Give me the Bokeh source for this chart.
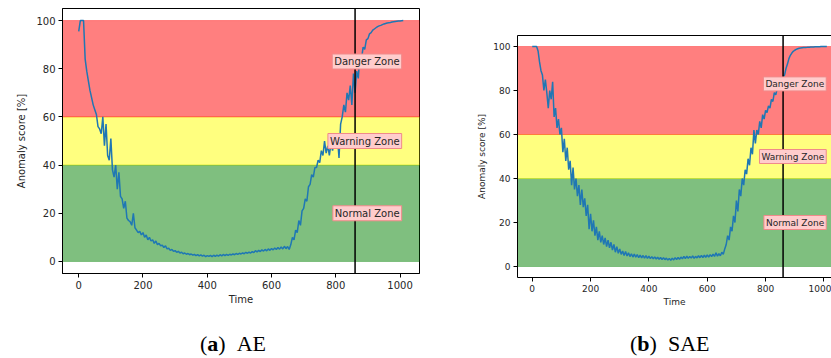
from bokeh.plotting import figure
from bokeh.layouts import row, column
from bokeh.models import BoxAnnotation, Span, Label, LinearAxis, FixedTicker, Range1d, Div, Spacer
from bokeh.embed import file_html
from bokeh.resources import INLINE

# ---------------- data ----------------
time = list(range(0, 1015, 5))

ae_score = [
    95.5, 100, 100, 100, 84, 79, 75, 71, 68, 65,
    63, 61, 56, 55, 53, 60, 48, 57, 44, 42,
    51, 38, 35, 40, 30, 37, 27, 26, 22, 25,
    18, 17, 16.5, 15, 20, 14, 13, 12, 12.5, 11,
    12, 10, 11, 9, 10, 8.5, 9, 7.5, 8.5, 7,
    7.5, 6.5, 6.8, 5.8, 6.5, 5.2, 5.5, 4.6, 5, 4.2,
    4.5, 3.8, 4.2, 3.5, 3.8, 3.2, 3.5, 3.0, 3.3, 2.8,
    3.1, 2.6, 2.9, 2.4, 2.8, 2.3, 2.7, 2.2, 2.6, 2.0,
    2.4, 2.1, 2.5, 2.0, 2.6, 2.1, 2.6, 2.2, 2.8, 2.3,
    2.9, 2.4, 2.9, 2.5, 3.0, 2.7, 3.1, 2.8, 3.3, 2.9,
    3.4, 3.1, 3.6, 3.2, 3.8, 3.4, 3.9, 3.5, 4.1, 3.7,
    4.5, 3.9, 4.6, 4.1, 4.8, 4.3, 5.0, 4.4, 5.2, 4.6,
    5.4, 4.8, 5.6, 5.0, 5.8, 5.1, 6.0, 5.2, 6.3, 5.3,
    6.2, 5.0, 7, 10, 9, 13, 12, 17, 15, 21,
    22, 26, 25, 31, 32, 36, 35, 39, 39, 42,
    41, 46, 44, 50, 45, 48, 44, 49, 46, 50,
    48, 52, 43, 57, 60, 65, 62, 70, 67, 73,
    65, 78, 70, 79, 76, 86, 84, 89, 88, 92,
    92.5, 94.5, 95, 96, 96.5, 97, 97.5, 97.8, 98, 98.3,
    98.6, 98.8, 99, 99.1, 99.2, 99.4, 99.5, 99.6, 99.7, 99.8,
    99.8, 99.9, 100,
]

sae_score = [
    100, 100, 100, 100, 98, 93, 89, 87, 80, 85,
    79, 72, 80, 76, 84, 68, 72, 63, 67, 60,
    63, 52, 58, 48, 54, 44, 48, 37, 45, 35,
    40, 32, 37, 28, 35, 27, 31, 23, 28, 17,
    24, 16, 21, 14, 18, 12, 16, 11, 14, 10,
    13, 9, 12, 8.5, 11, 7.5, 10, 6.5, 9, 6,
    8, 5.5, 7, 5, 6.8, 4.8, 6.2, 4.5, 5.8, 4.3,
    5.6, 4.2, 5.4, 4.0, 5.2, 3.9, 5.0, 3.8, 4.9, 3.7,
    4.7, 3.6, 4.5, 3.5, 4.4, 3.4, 4.2, 3.3, 4.1, 3.2,
    4.0, 3.1, 3.8, 2.9, 3.7, 2.8, 3.8, 3.0, 4.0, 3.2,
    4.1, 3.3, 4.3, 3.5, 4.6, 3.6, 4.7, 3.7, 4.6, 3.8,
    4.8, 3.7, 4.6, 3.9, 4.9, 4.0, 5.0, 4.1, 5.1, 4.2,
    5.3, 4.3, 5.4, 4.5, 5.6, 4.6, 6.2, 4.7, 5.8, 4.9,
    6.5, 5.5, 8, 10, 14, 12, 18, 16, 23, 20,
    30, 25, 35, 32, 40, 37, 44, 42, 49, 46,
    54, 51, 62, 56, 62, 60, 66, 63, 69, 67,
    71, 70, 73, 72, 76, 75, 79, 78, 81, 81,
    84, 83, 86, 87, 90, 92, 94.5, 96, 97, 97.8,
    98.3, 98.7, 99, 99.2, 99.3, 99.4, 99.5, 99.6, 99.6, 99.7,
    99.7, 99.8, 99.8, 99.8, 99.9, 99.9, 99.9, 99.9, 100, 100,
    100, 100, 100,
]

zone_bounds = [0, 40, 60, 100]
zone_colors = ["#008000", "#ffff00", "#ff0000"]
zone_names = ["Normal Zone", "Warning Zone", "Danger Zone"]
zone_label_y = [20, 50, 83]
event_time = 860
y_ticks = [0, 20, 40, 60, 80, 100]
x_ticks = [0, 200, 400, 600, 800, 1000]

TXT = "#262626"
FONT = "DejaVu Sans"


def panel(score, width, height, mb_left, mb_right, mb_top, mb_bottom, x_end,
          fs, label_x, full_frame, ylab_standoff):
    p = figure(width=width, height=height, output_backend="svg", toolbar_location=None,
               title=None,
               x_range=Range1d(-50.5, x_end), y_range=Range1d(-5, 105),
               min_border_left=mb_left, min_border_right=mb_right,
               min_border_top=mb_top, min_border_bottom=mb_bottom)
    p.grid.visible = False
    p.background_fill_color = "white"
    p.border_fill_color = "white"
    xa = p.below[0]
    ya = p.left[0]
    if full_frame:
        p.outline_line_color = "black"
        p.outline_line_width = 1
    else:
        p.outline_line_color = None
        top = LinearAxis(ticker=FixedTicker(ticks=[]), axis_line_color="black",
                         major_label_text_font_size="0px", major_tick_line_color=None,
                         minor_tick_line_color=None, major_label_standoff=0,
                         major_tick_out=0, axis_label=None)
        p.add_layout(top, "above")

    for i in range(3):
        p.add_layout(BoxAnnotation(bottom=zone_bounds[i], top=zone_bounds[i + 1],
                                   fill_color=zone_colors[i], fill_alpha=0.5,
                                   line_color=zone_colors[i], line_alpha=0.35, line_width=1,
                                   level="underlay"))

    p.line(time, score, line_color="#1f77b4", line_width=1.5)
    p.add_layout(Span(location=event_time, dimension="height", line_color="black", line_width=1.5))

    for name, yy in zip(zone_names, zone_label_y):
        p.add_layout(Label(x=label_x, y=yy, text=name, text_align="right", text_baseline="middle",
                           text_font=FONT, text_font_size=f"{fs}px", text_color=TXT,
                           background_fill_color="#ffcccc", background_fill_alpha=1.0,
                           border_line_color="#f08a8a", border_line_alpha=1.0,
                           padding=2))

    for ax in (xa, ya):
        ax.axis_line_color = "black"
        ax.major_tick_line_color = "black"
        ax.major_tick_out = 4
        ax.major_tick_in = 0
        ax.minor_tick_line_color = None
        ax.major_label_text_font = FONT
        ax.major_label_text_font_size = f"{fs}px"
        ax.major_label_text_color = TXT
        ax.axis_label_text_font = FONT
        ax.axis_label_text_font_size = f"{fs}px"
        ax.axis_label_text_font_style = "normal"
        ax.axis_label_text_color = TXT
        ax.major_label_standoff = 3
    xa.ticker = FixedTicker(ticks=x_ticks)
    ya.ticker = FixedTicker(ticks=y_ticks)
    xa.axis_label = "Time"
    xa.axis_label_standoff = 2
    ya.axis_label = "Anomaly score [%]"
    ya.axis_label_standoff = ylab_standoff
    return p


# left panel: frame 8..273 ; right panel: frame 35..277 (offset by a 27px spacer)
H1 = 326
H2 = 303
p1 = panel(ae_score, 465, H1, 62, 46, 8, H1 - 273, 1060.5, 10, 1005, True, 6)
p2 = panel(sae_score, 366, H2, 52, 0, 8, 53, 1026, 9, 1008, False, 3)

right_col = column(Spacer(width=366, height=27), p2, spacing=0)

cap_style = {"font-family": "Liberation Serif", "font-size": "22px", "color": "black",
             "line-height": "28px", "white-space": "nowrap"}
d1 = Div(text="(<b>a</b>)&nbsp;&nbsp;AE", width=465, height=28, margin=0,
         styles=dict(cap_style, **{"padding-left": "200px"}))
d2 = Div(text="(<b>b</b>)&nbsp;&nbsp;SAE", width=366, height=28, margin=0,
         styles=dict(cap_style, **{"padding-left": "165px"}))

layout = column(row(p1, right_col, spacing=0), row(d1, d2, spacing=0), spacing=0)
open("out.html", "w").write(file_html(layout, INLINE))
